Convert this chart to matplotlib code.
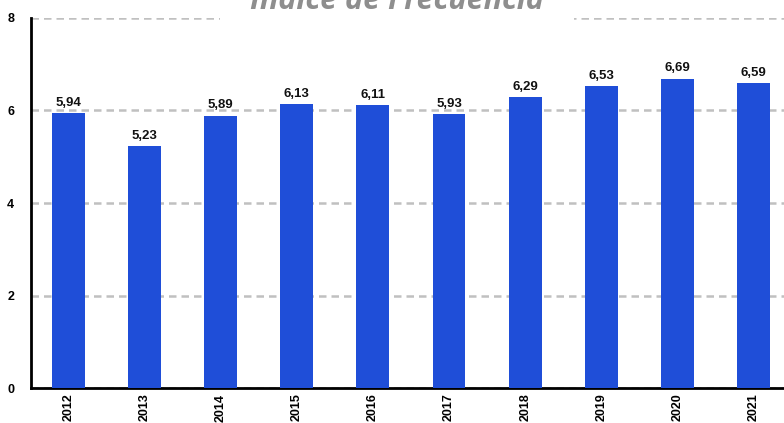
import matplotlib
matplotlib.use('Agg')
from matplotlib import pyplot as plt

years = ['2012', '2013', '2014', '2015', '2016', '2017', '2018', '2019', '2020', '2021']
values = [5.94, 5.23, 5.89, 6.13, 6.11, 5.93, 6.29, 6.53, 6.69, 6.59]
labels = ['5,94', '5,23', '5,89', '6,13', '6,11', '5,93', '6,29', '6,53', '6,69', '6,59']
yticks = [0, 2, 4, 6, 8]

plt.rcParams['font.family'] = ['Liberation Sans', 'DejaVu Sans']

fig = plt.figure(figsize=(7.84, 4.23), dpi=100)
ax = fig.add_axes([31 / 784, 35 / 423, 1 - 31 / 784, 370 / 423])

x = list(range(len(years)))
ax.bar(x, values, width=0.433, color='#1f4ed8', zorder=3)

for xi, v, lab in zip(x, values, labels):
    ax.text(xi, v + 0.09, lab, ha='center', va='bottom', fontsize=9.5,
            fontweight='bold', color='#111111', zorder=4)

ax.set_xlim(-0.49, 9.4)
ax.set_ylim(0, 8)
ax.set_xticks(x)
ax.set_xticklabels(years, rotation=90, fontsize=9, fontweight='bold')
ax.set_yticks(yticks)
ax.set_yticklabels([str(t) for t in yticks], fontsize=9, fontweight='bold')
ax.tick_params(axis='both', length=0)
ax.tick_params(axis='y', pad=12)
ax.tick_params(axis='x', pad=4)

ax.grid(axis='y', color='#c0c0c0', linestyle=(0, (3, 2)), linewidth=1.8, zorder=0)
ax.spines['top'].set_visible(False)
ax.spines['right'].set_visible(False)
ax.spines['left'].set_linewidth(2)
ax.spines['bottom'].set_linewidth(2)

fig.text(397 / 784, 1 - 9 / 423, 'Índice de Frecuencia', ha='center', va='baseline',
         fontsize=22, fontstyle='italic', fontweight='bold', color='#8e8e8e',
         family=['Open Sans', 'DejaVu Sans'],
         bbox=dict(facecolor='white', edgecolor='none', pad=22))

fig.savefig('out.png', dpi=100)
